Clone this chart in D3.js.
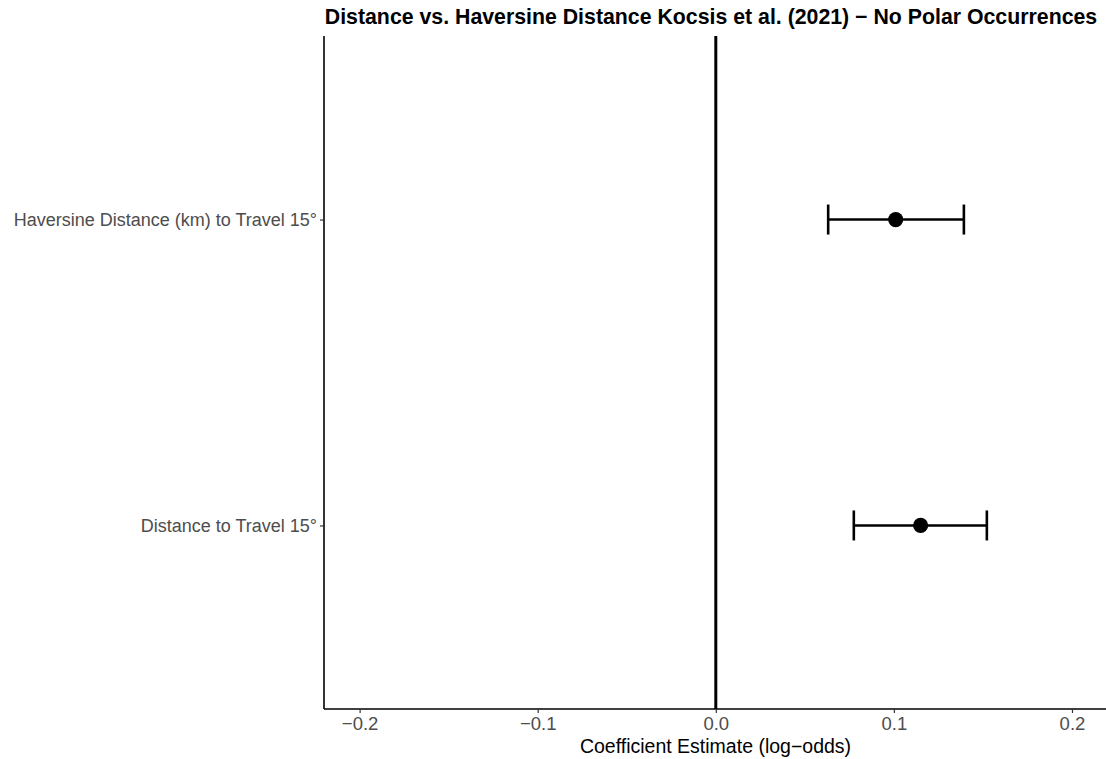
<!DOCTYPE html>
<html>
<head>
<meta charset="utf-8">
<script src="https://cdn.jsdelivr.net/npm/d3@7"></script>
<style>
  body { margin: 0; background: #fff; }
  svg { display: block; font-family: "Liberation Sans", Arial, sans-serif; }
</style>
</head>
<body>
<svg id="chart" width="1106" height="759"></svg>
<script>
const categories = ["Distance to Travel 15°", "Haversine Distance (km) to Travel 15°"];
const estimates = [0.115, 0.101];
const lowerCI = [0.0775, 0.0631];
const upperCI = [0.1522, 0.1393];
const xTicks = [-0.2, -0.1, 0.0, 0.1, 0.2];
const titleText = "Distance vs. Haversine Distance Kocsis et al. (2021) \u2212 No Polar Occurrences";
const xLabel = "Coefficient Estimate (log\u2212odds)";

(function () {
const data = categories.map((c, i) => ({ cat: c, est: estimates[i], lo: lowerCI[i], hi: upperCI[i] }));

const svg = d3.select("#chart");
const pLeft = 324, pRight = 1107.6, pTop = 36, pBottom = 709;

const x = d3.scaleLinear().domain([-0.22, 0.22]).range([pLeft, pRight]);
const yIdx = d3.scaleLinear().domain([0.4, 2.6]).range([pBottom, pTop]);
const yPos = c => yIdx(categories.indexOf(c) + 1);

svg.append("line")
  .attr("x1", x(0)).attr("x2", x(0))
  .attr("y1", pTop).attr("y2", pBottom)
  .attr("stroke", "#000").attr("stroke-width", 3);

const g = svg.append("g");
data.forEach(d => {
  const yy = yPos(d.cat);
  g.append("line").attr("x1", x(d.lo)).attr("x2", x(d.hi)).attr("y1", yy).attr("y2", yy)
    .attr("stroke", "#000").attr("stroke-width", 2.6);
  [d.lo, d.hi].forEach(v => {
    g.append("line").attr("x1", x(v)).attr("x2", x(v)).attr("y1", yy - 15).attr("y2", yy + 15)
      .attr("stroke", "#000").attr("stroke-width", 2.6);
  });
  g.append("circle").attr("cx", x(d.est)).attr("cy", yy).attr("r", 7.6).attr("fill", "#000");
});

const xAxis = svg.append("g").attr("transform", `translate(0,${pBottom})`)
  .call(d3.axisBottom(x).tickValues(xTicks).tickSize(4).tickPadding(4)
    .tickFormat(d => d3.format(".1f")(d).replace("-", "\u2212").replace("\u22120.0", "0.0")));
xAxis.select(".domain").attr("stroke", "#000").attr("stroke-width", 1.6)
  .attr("d", `M${pLeft},0H1106`);
xAxis.selectAll(".tick line").attr("stroke", "#333").attr("stroke-width", 1.2);
xAxis.selectAll(".tick text").attr("fill", "#4d4d4d").attr("font-size", 18.5)
  .attr("font-family", "Liberation Sans, Arial, sans-serif");

const yBand = d3.scalePoint().domain(categories).range([yPos(categories[0]), yPos(categories[1])]);
const yAxis = svg.append("g").attr("transform", `translate(${pLeft},0)`)
  .call(d3.axisLeft(yBand).tickSize(4).tickPadding(3));
yAxis.select(".domain").attr("stroke", "#000").attr("stroke-width", 1.6)
  .attr("d", `M0,${pTop}V${pBottom}`);
yAxis.selectAll(".tick line").attr("stroke", "#333").attr("stroke-width", 1.2);
yAxis.selectAll(".tick text").attr("fill", "#4d4d4d").attr("font-size", 18)
  .attr("font-family", "Liberation Sans, Arial, sans-serif");

svg.append("text").attr("x", 715.5).attr("y", 753)
  .attr("text-anchor", "middle").attr("font-size", 19.5).attr("fill", "#000")
  .text(xLabel);

svg.append("text").attr("x", 711).attr("y", 24)
  .attr("text-anchor", "middle").attr("font-size", 21.3).attr("font-weight", "bold").attr("fill", "#000")
  .text(titleText);
})();
</script>
</body>
</html>
